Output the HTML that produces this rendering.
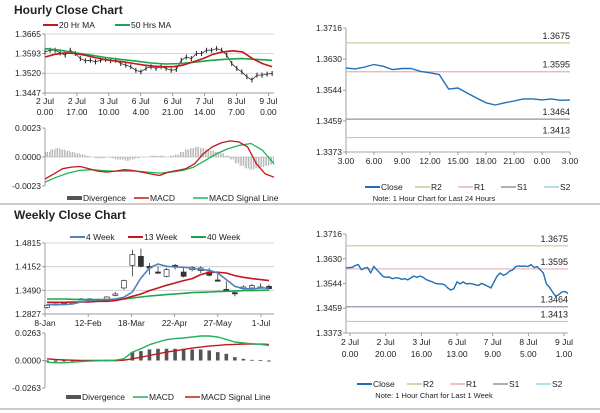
<!DOCTYPE html>
<html><head><meta charset="utf-8">
<style>
html,body{margin:0;padding:0;background:#fff;}
svg{display:block;font-family:"Liberation Sans",sans-serif;}
text{fill:#222;font-size:8.5px;}
</style></head>
<body>
<svg id="c" width="600" height="413" viewBox="0 0 600 413" xmlns="http://www.w3.org/2000/svg">
<line x1="0" y1="204" x2="600" y2="204" stroke="#999"/>
<line x1="0" y1="409" x2="600" y2="409" stroke="#999"/>
<text x="14" y="14" style="font-size:12px;font-weight:bold">Hourly Close Chart</text>
<text x="14" y="219" style="font-size:12px;font-weight:bold">Weekly Close Chart</text>
</svg>
<script>
// ---------- DATA ----------
const hXLabels1=["2 Jul","2 Jul","3 Jul","6 Jul","6 Jul","7 Jul","8 Jul","9 Jul"];
const hXLabels2=["0.00","17.00","10.00","4.00","21.00","14.00","7.00","0.00"];
const hXHours=[0,17,34,51,68,85,102,119];
const hTicks=[1.3665,1.3593,1.3520,1.3447];
const hClose=[1.3599,1.3605,1.3605,1.3595,1.3587,1.3605,1.3593,1.3574,1.3566,1.3568,1.3562,1.3568,1.3571,1.3566,1.3568,1.3556,1.3550,1.3544,1.3531,1.3525,1.3538,1.3544,1.3538,1.3544,1.3538,1.3531,1.3534,1.3568,1.3580,1.3574,1.3593,1.3593,1.3605,1.3605,1.3611,1.3605,1.3587,1.3556,1.3538,1.3525,1.3507,1.3495,1.3513,1.3513,1.3517,1.3519];
const hMA20=[1.3580,1.3590,1.3595,1.3593,1.3587,1.3578,1.3571,1.3566,1.3562,1.3556,1.3550,1.3546,1.3544,1.3544,1.3550,1.3562,1.3574,1.3590,1.3599,1.3603,1.3599,1.3574,1.3556,1.3544];
const hMA50=[1.3611,1.3605,1.3595,1.3587,1.3578,1.3571,1.3565,1.3558,1.3554,1.3556,1.3562,1.3568,1.3572,1.3574,1.3571,1.3568];
const hmTicks=[0.0023,0.0000,-0.0023];
const hMACD=[-0.00174,-0.00134,-0.00093,-0.00080,-0.00075,-0.00093,-0.00112,-0.00120,-0.00112,-0.00101,-0.00107,-0.00120,-0.00134,-0.00147,-0.00120,-0.00107,-0.00093,-0.00053,0.00027,0.00080,0.00112,0.00128,0.00120,0.00080,-0.00053,-0.00134,-0.00160];
const hSignal=[-0.00200,-0.00160,-0.00128,-0.00107,-0.00101,-0.00107,-0.00112,-0.00112,-0.00112,-0.00120,-0.00128,-0.00120,-0.00107,-0.00080,-0.00027,0.00027,0.00067,0.00093,0.00107,0.00053,-0.00053];
const hDiv=[0.0004,0.0006,0.0007,0.0006,0.0005,0.0004,0.0003,0.0002,0.0001,0.0000,-0.0001,-0.0001,0.0000,-0.0001,-0.0002,-0.0002,-0.0003,-0.0002,-0.0001,0.0000,0.0000,0.0001,0.0001,0.0001,0.0000,0.0001,0.0002,0.0004,0.0006,0.0007,0.0008,0.0007,0.0006,0.0005,0.0004,0.0003,0.0001,-0.0002,-0.0005,-0.0007,-0.0009,-0.0010,-0.0009,-0.0008,-0.0007,-0.0006];
const dXLabels=["3.00","6.00","9.00","12.00","15.00","18.00","21.00","0.00","3.00"];
const dTicks=[1.3716,1.3630,1.3544,1.3459,1.3373];
const dClose=[1.3605,1.3603,1.3608,1.3615,1.3610,1.3601,1.3604,1.3604,1.3596,1.3592,1.3587,1.3547,1.3550,1.3536,1.3522,1.3509,1.3503,1.3509,1.3514,1.3520,1.3520,1.3517,1.3520,1.3516,1.3517];
const levelNames=["R2","R1","S1","S2"];
const dLevels=[1.3675,1.3595,1.3464,1.3413];
const levelColors=["#c9c99a","#e6b0b0","#9a8fa6","#9fd4df"];
const wXLabels=["8-Jan","12-Feb","18-Mar","22-Apr","27-May","1-Jul"];
const wXWeeks=[0,5,10,15,20,25];
const wTicks=[1.4815,1.4152,1.3490,1.2827];
const wOpen=[1.3014,1.3089,1.3108,1.3126,1.3248,1.3248,1.3220,1.3238,1.3350,1.3556,1.4190,1.4442,1.4162,1.4003,1.3882,1.4190,1.4003,1.4069,1.4041,1.4003,1.3779,1.3518,1.3425,1.3537,1.3556,1.3565,1.3602];
const wClose=[1.3070,1.3108,1.3126,1.3154,1.3229,1.3229,1.3238,1.3304,1.3388,1.3761,1.4488,1.4162,1.4115,1.3985,1.4069,1.4162,1.3882,1.4134,1.4115,1.3910,1.3751,1.3500,1.3406,1.3584,1.3621,1.3584,1.3537];
const wHigh=[1.3108,1.3126,1.3145,1.3173,1.3276,1.3276,1.3257,1.3322,1.3444,1.3789,1.4628,1.4656,1.4255,1.4162,1.4115,1.4227,1.4115,1.4162,1.4162,1.4115,1.4022,1.3742,1.3481,1.3630,1.3668,1.3686,1.3649];
const wLow=[1.2977,1.3070,1.3089,1.3108,1.3210,1.3210,1.3201,1.3220,1.3322,1.3509,1.3882,1.4134,1.3929,1.3947,1.3854,1.4069,1.3854,1.4022,1.3975,1.3882,1.3733,1.3481,1.3322,1.3481,1.3509,1.3537,1.3518];
const w4=[1.3089,1.3089,1.3089,1.3108,1.3164,1.3201,1.3220,1.3229,1.3248,1.3294,1.3444,1.3835,1.4115,1.4227,1.4162,1.4143,1.4134,1.4115,1.4069,1.4050,1.3975,1.3789,1.3602,1.3537,1.3527,1.3556,1.3556];
const w13=[1.3154,1.3154,1.3154,1.3164,1.3164,1.3164,1.3182,1.3182,1.3201,1.3248,1.3322,1.3388,1.3481,1.3556,1.3630,1.3695,1.3761,1.3817,1.3929,1.3994,1.3994,1.3975,1.3901,1.3854,1.3817,1.3789,1.3761];
const w40=[1.3248,1.3248,1.3248,1.3238,1.3229,1.3229,1.3229,1.3229,1.3238,1.3248,1.3276,1.3304,1.3332,1.3350,1.3369,1.3388,1.3406,1.3425,1.3434,1.3444,1.3453,1.3462,1.3472,1.3481,1.3481,1.3490,1.3500];
const wmTicks=[0.0263,0.0000,-0.0263];
const wMACD=[-0.0016,-0.0022,-0.0022,-0.0016,-0.0010,-0.0006,-0.0003,0.0000,0.0003,0.0016,0.0080,0.0112,0.0151,0.0177,0.0199,0.0209,0.0215,0.0225,0.0234,0.0234,0.0225,0.0202,0.0177,0.0167,0.0161,0.0154,0.0144];
const wSignal=[0.0016,0.0010,0.0006,0.0003,0.0000,0.0000,0.0000,0.0000,0.0000,0.0003,0.0016,0.0032,0.0048,0.0064,0.0080,0.0093,0.0106,0.0119,0.0128,0.0138,0.0144,0.0151,0.0154,0.0157,0.0157,0.0157,0.0154];
const wDiv=[-0.0010,-0.0012,-0.0010,-0.0008,-0.0006,-0.0003,-0.0002,0.0000,0.0000,0.0010,0.0080,0.0090,0.0106,0.0112,0.0112,0.0112,0.0112,0.0106,0.0106,0.0096,0.0080,0.0064,0.0032,0.0016,0.0006,0.0003,-0.0010];
const kXLabels1=["2 Jul","2 Jul","3 Jul","6 Jul","7 Jul","8 Jul","9 Jul"];
const kXLabels2=["0.00","20.00","16.00","13.00","9.00","5.00","1.00"];
const kTicks=[1.3716,1.3630,1.3544,1.3459,1.3373];
const kClose=[1.3598,1.3600,1.3600,1.3607,1.3610,1.3592,1.3598,1.3600,1.3581,1.3604,1.3592,1.3581,1.3569,1.3566,1.3567,1.3561,1.3564,1.3564,1.3559,1.3561,1.3557,1.3564,1.3570,1.3566,1.3570,1.3566,1.3558,1.3554,1.3550,1.3545,1.3543,1.3543,1.3540,1.3529,1.3522,1.3527,1.3550,1.3543,1.3550,1.3543,1.3545,1.3543,1.3540,1.3538,1.3545,1.3540,1.3535,1.3529,1.3550,1.3570,1.3581,1.3573,1.3577,1.3587,1.3591,1.3603,1.3605,1.3604,1.3605,1.3603,1.3610,1.3600,1.3603,1.3592,1.3581,1.3543,1.3531,1.3515,1.3500,1.3506,1.3515,1.3517,1.3510];

// ---------- DRAWING ----------
const svg=document.getElementById('c');
const NS='http://www.w3.org/2000/svg';
function mk(tag,attrs,parent){const e=document.createElementNS(NS,tag);for(const k in attrs)e.setAttribute(k,attrs[k]);(parent||svg).appendChild(e);return e;}
function lin(d0,d1,r0,r1){return v=>r0+(v-d0)/(d1-d0)*(r1-r0);}
function txt(x,y,s,anchor,name,size){const t=mk('text',{x:x,y:y,'text-anchor':anchor||'start'});if(size)t.style.fontSize=size+'px';t.textContent=s;


return t;}
function poly(vals,xf,yf,color,w,name){const pts=vals.map((v,i)=>xf(i).toFixed(1)+','+yf(v).toFixed(1)).join(' ');const p=mk('polyline',{points:pts,fill:'none',stroke:color,'stroke-width':w,'stroke-linejoin':'round'});


return p;}
function frame(x0,x1,y0,y1,ticks,yf,grid,name){
  const g=mk('g',{});
  
  
  ticks.forEach(t=>{const y=yf(t);
    if(grid){const l=mk('line',{x1:x0,x2:x1,y1:y,y2:y,stroke:'#c8c8c8','stroke-width':0.8},g);
      
      }
    const tk=mk('line',{x1:x0-3,x2:x0,y1:y,y2:y,stroke:'#888','stroke-width':0.8},g);
    
    
    txt(x0-4,y+3,t.toFixed(4),'end','y-tick-label');});
  const ax=mk('line',{x1:x0,x2:x0,y1:y0,y2:y1,stroke:'#888','stroke-width':0.8},g);
  
  
  return g;}
function legLine(x,y,color,label,w){const l=mk('line',{x1:x,x2:x+15,y1:y,y2:y,stroke:color,'stroke-width':w||2});
  
  
  txt(x+16,y+3,label,'start','legend-label');}

{
const X0=45,X1=274,xh=lin(0,122,X0,X1),y=lin(1.3665,1.3447,34,93);
frame(X0,X1,34,93,hTicks,y,true,'hourly-price-axis');
const bx=mk('line',{x1:X0,x2:X1,y1:93,y2:93,stroke:'#888','stroke-width':0.8});

hXHours.forEach((h,i)=>{const x=xh(h);
  const t=mk('line',{x1:x,x2:x,y1:93,y2:96,stroke:'#888','stroke-width':0.8});
  
  txt(x,104,hXLabels1[i],'middle','x-tick-label');txt(x,115,hXLabels2[i],'middle','x-tick-label');});
const xc=i=>xh(i/(hClose.length-1)*121);
poly(hClose,xc,y,'#333',0.8,'hourly-close-line');
hClose.forEach((v,i)=>{const c=mk('line',{x1:xc(i),x2:xc(i),y1:y(v)-2.5,y2:y(v)+2.5,stroke:'#222','stroke-width':1});
  });
poly(hMA50,i=>xh(i/(hMA50.length-1)*121),y,'#1aa64a',1.6,'ma50-line');
poly(hMA20,i=>xh(i/(hMA20.length-1)*121),y,'#c0181c',1.6,'ma20-line');
legLine(43,25,'#c0181c','20 Hr MA');legLine(115,25,'#1aa64a','50 Hrs MA');
}
{
const X0=45,X1=274,y=lin(0.0023,-0.0023,128,186);
frame(X0,X1,128,186,hmTicks,y,false,'hourly-macd-axis');
const xb=i=>X0+(i+0.5)/hDiv.length*(X1-X0);
hDiv.forEach((v,i)=>{const bw=(X1-X0)/hDiv.length;
  for(let k=0;k<3;k++){const l=mk('line',{x1:xb(i)-bw/2+k*bw/3+1,x2:xb(i)-bw/2+k*bw/3+1,y1:y(0),y2:y(v),stroke:'#999','stroke-width':0.7});
  }});
const zl=mk('line',{x1:X0,x2:X1,y1:y(0),y2:y(0),stroke:'#aaa','stroke-width':0.6});

poly(hSignal,i=>X0+i/(hSignal.length-1)*(X1-X0),y,'#22b25a',1.3,'hourly-signal-line');
poly(hMACD,i=>X0+i/(hMACD.length-1)*(X1-X0),y,'#c0181c',1.3,'hourly-macd-line');
legLine(67,198,'#555','Divergence',4);legLine(134,198,'#c0181c','MACD',1.5);legLine(193,198,'#22b25a','MACD Signal Line',1.5);
}
function levelPanel(X0,X1,Y0,Y1,ticks,closeArr,xl1,xl2,noteY,legY,note,prefix){
  const y=lin(1.3716,1.3373,Y0,Y1);
  frame(X0,X1,Y0,Y1,ticks,y,false,prefix+'-axis');
  const bx=mk('line',{x1:X0,x2:X1,y1:Y1,y2:Y1,stroke:'#888','stroke-width':0.8});
  
  dLevels.forEach((v,i)=>{const l=mk('line',{x1:X0,x2:X1,y1:y(v),y2:y(v),stroke:levelColors[i],'stroke-width':1.2});
    
    txt(X1,y(v)-4,v.toFixed(4),'end','level-label',9);});
  const n=xl1.length;
  const xs=i=>X0+(prefix==='day'?i/(n-1)*(X1-X0):4+i*(X1-X0-8)/(n-1));
  xl1.forEach((s,i)=>{const x=xs(i);
    const t=mk('line',{x1:x,x2:x,y1:Y1,y2:Y1+3,stroke:'#888','stroke-width':0.8});
    
    txt(x,Y1+12,s,'middle','x-tick-label');
    if(xl2)txt(x,Y1+24,xl2[i],'middle','x-tick-label');});
  poly(closeArr,i=>X0+i/(closeArr.length-1)*(X1-X0),y,'#1f6fb8',1.4,prefix+'-close-line');
  let lx=365-(prefix==='day'?0:8);
  legLine(lx,legY,'#1f6fb8','Close',2);
  levelNames.forEach((nm,i)=>legLine(lx+50+i*43,legY,levelColors[i],nm,1.5));
  txt(434,noteY,note,'middle','chart-note',7.5);
}
levelPanel(346,570,28,152,dTicks,dClose,dXLabels,null,201,187,'Note: 1 Hour Chart for Last 24 Hours','day');
levelPanel(346,568,234,333,kTicks,kClose,kXLabels1,kXLabels2,398,384,'Note: 1 Hour Chart for  Last 1 Week','week');

{
const X0=45,X1=274,xw=lin(0,26,X0+2,269),y=lin(1.4815,1.2827,243,314);
frame(X0,X1,243,314,wTicks,y,true,'weekly-price-axis');
const bx=mk('line',{x1:X0,x2:X1,y1:314,y2:314,stroke:'#888','stroke-width':0.8});

wXWeeks.forEach((w,i)=>{const x=X0+w*(261-X0)/25;
  const t=mk('line',{x1:x,x2:x,y1:314,y2:317,stroke:'#888','stroke-width':0.8});
  
  txt(x,326,wXLabels[i],'middle','x-tick-label');});
wOpen.forEach((o,i)=>{const x=xw(i),c=wClose[i];
  const wk=mk('line',{x1:x,x2:x,y1:y(wHigh[i]),y2:y(wLow[i]),stroke:'#333','stroke-width':0.8});
  
  const top=Math.min(y(o),y(c)),h=Math.max(1.2,Math.abs(y(o)-y(c)));
  const r=mk('rect',{x:x-2.5,y:top,width:5,height:h,fill:c>=o?'#fff':'#333',stroke:'#333','stroke-width':0.7});
  });
poly(w40,xw,y,'#1aa64a',1.6,'ma40-line');
poly(w13,xw,y,'#c0181c',1.6,'ma13-line');
poly(w4,xw,y,'#4f81bd',1.6,'ma4-line');
legLine(70,237,'#4f81bd','4 Week');legLine(128,237,'#c0181c','13 Week');legLine(191,237,'#1aa64a','40 Week');
}
{
const X0=45,X1=274,xw=lin(0,26,X0+2,269),y=lin(0.0263,-0.0263,333,388);
frame(X0,X1,333,388,wmTicks,y,false,'weekly-macd-axis');
wDiv.forEach((v,i)=>{const r=mk('rect',{x:xw(i)-1.8,y:Math.min(y(0),y(v)),width:3.6,height:Math.max(0.8,Math.abs(y(v)-y(0))),fill:'#555'});
  });
poly(wSignal,xw,y,'#c0181c',1.4,'weekly-signal-line');
poly(wMACD,xw,y,'#22b25a',1.4,'weekly-macd-line');
legLine(66,397,'#555','Divergence',4);legLine(133,397,'#22b25a','MACD',1.5);legLine(185,397,'#c0181c','MACD Signal Line',1.5);
}
</script>
</body></html>
